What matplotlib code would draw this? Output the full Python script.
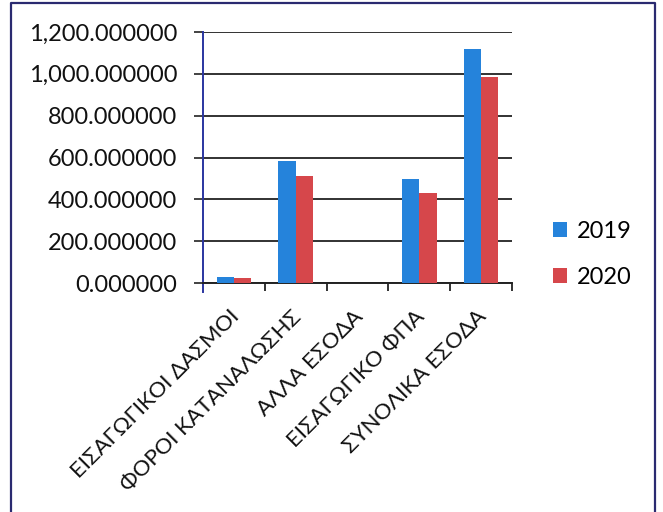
import matplotlib
matplotlib.use("Agg")
import matplotlib.pyplot as plt
import numpy as np
from matplotlib.patches import Patch
from matplotlib.lines import Line2D
from matplotlib.transforms import ScaledTranslation
from matplotlib.ticker import FixedLocator, FuncFormatter

categories = ["ΕΙΣΑΓΩΓΙΚΟΙ ΔΑΣΜΟΙ", "ΦΟΡΟΙ ΚΑΤΑΝΑΛΩΣΗΣ", "ΑΛΛΑ ΕΣΟΔΑ",
              "ΕΙΣΑΓΩΓΙΚΟ ΦΠΑ", "ΣΥΝΟΛΙΚΑ ΕΣΟΔΑ"]
series_names = ["2019", "2020"]
values_2019 = [27, 582, 0, 495, 1121]
values_2020 = [25, 513, 0, 430, 985]
y_ticks = [0, 200, 400, 600, 800, 1000, 1200]

colors = ["#2583DB", "#D6474B"]

plt.rcParams['font.family'] = ['Lato', 'DejaVu Sans']

W, H = 663, 512
fig = plt.figure(figsize=(W / 100, H / 100), dpi=100)
fig.patch.set_facecolor("white")

left_px, right_px, top_px, bottom_px = 203, 512, 32, 283
ax = fig.add_axes([left_px / W, 1 - bottom_px / H,
                   (right_px - left_px) / W, (bottom_px - top_px) / H])

x = np.arange(len(categories))
bw = 0.28
ax.bar(x - bw / 2, values_2019, width=bw, color=colors[0], zorder=3, label=series_names[0])
ax.bar(x + bw / 2, values_2020, width=bw, color=colors[1], zorder=3, label=series_names[1])

ax.set_xlim(-0.5, len(categories) - 0.5)
ax.set_ylim(0, 1200)
ax.set_yticks(y_ticks)
ax.yaxis.set_major_formatter(FuncFormatter(lambda v, p: f"{v:,.6f}"))

ax.yaxis.grid(True, color="#222222", linewidth=1.3, zorder=1)
ax.set_axisbelow(True)

for s in ["top", "right"]:
    ax.spines[s].set_visible(False)
ax.spines["left"].set_color("#2a35a0")
ax.spines["left"].set_linewidth(1.4)
ax.spines["left"].set_bounds(-45, 1200)
ax.spines["bottom"].set_color("#222222")
ax.spines["bottom"].set_linewidth(1.4)

ax.tick_params(axis="y", length=6.5, width=1.2, color="#222222", pad=12,
               labelsize=17, labelcolor="#111111")

# category labels at centres, ticks at boundaries
ax.set_xticks(x)
ax.set_xticklabels(categories, rotation=45, ha="right", va="center",
                   rotation_mode="anchor", fontsize=16, color="#111111")
ax.tick_params(axis="x", which="major", length=0, pad=22)
ax.xaxis.set_minor_locator(FixedLocator(np.arange(0.5, len(categories), 1.0)))
ax.tick_params(axis="x", which="minor", length=6, width=1.3, color="#222222", direction="out")
offset = ScaledTranslation(2 / 100, 0, fig.dpi_scale_trans)
for lab in ax.get_xticklabels():
    lab.set_transform(lab.get_transform() + offset)

handles = [Patch(facecolor=c, edgecolor="none") for c in colors]
fig.legend(handles, series_names, loc="upper left",
           bbox_to_anchor=(553 / W, 1 - 221 / H), frameon=False,
           fontsize=17, handlelength=0.6, handleheight=0.6,
           handletextpad=0.4, labelspacing=1.05, borderpad=0, borderaxespad=0)

# outer chart border
border_color = "#2a2a70"
fig.add_artist(Line2D([11 / W, 11 / W, 655 / W, 655 / W],
                      [0, 1 - 3 / H, 1 - 3 / H, 0],
                      color=border_color, linewidth=1.6, transform=fig.transFigure))

fig.savefig("out.png", dpi=100, facecolor="white")
